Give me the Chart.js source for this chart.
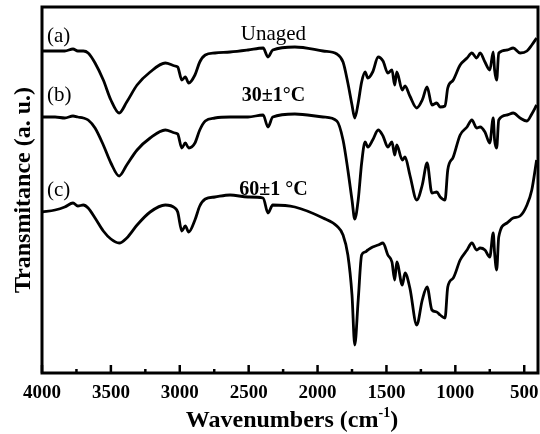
<!DOCTYPE html>
<html>
<head>
<meta charset="utf-8">
<script src="https://cdn.jsdelivr.net/npm/chart.js@4.4.0/dist/chart.umd.min.js"></script>
<style>
  html, body { margin: 0; padding: 0; background: #fff; }
</style>
</head>
<body>
<canvas id="ftir" width="540" height="434"></canvas>
<script>
// FTIR spectra, wavenumber (cm-1) against transmittance (a. u.), offset traces
const wavenumbers = [
  4000, 3905, 3835, 3775, 3740, 3700, 3665, 3615, 3555, 3500,
  3440, 3385, 3310, 3215, 3105, 3035, 3015, 2985, 2960, 2935,
  2890, 2855, 2815, 2745, 2635, 2505, 2395, 2360, 2325, 2165,
  1960, 1860, 1815, 1780, 1750, 1730, 1705, 1680, 1655, 1635,
  1600, 1560, 1525, 1490, 1460, 1440, 1425, 1385, 1365, 1330,
  1280, 1240, 1205, 1170, 1135, 1110, 1075, 1055, 1015, 965,
  915, 880, 845, 820, 785, 750, 725, 715, 700, 685,
  625, 580, 530, 480, 445, 410
];

const unaged = [
  322, 322, 322, 324, 322, 322, 320, 310, 293, 273,
  260, 271, 288, 301, 310, 307, 306, 293, 296, 290,
  298, 311, 318, 320, 321, 323, 325, 316, 323, 326,
  322, 319, 311, 290, 268, 255, 270, 291, 301, 295,
  301, 316, 312, 300, 303, 288, 301, 283, 287, 277,
  265, 273, 286, 268, 270, 266, 267, 285, 293, 308,
  315, 320, 315, 320, 311, 303, 321, 303, 293, 320,
  323, 325, 320, 322, 328, 335
];

const aged30 = [
  256, 256, 255, 257, 256, 255, 253, 245, 228, 210,
  197, 208, 223, 235, 243, 240, 239, 225, 230, 225,
  230, 243, 252, 255, 256, 256, 258, 246, 256, 259,
  256, 252, 233, 203, 173, 154, 173, 210, 231, 226,
  233, 243, 237, 226, 231, 218, 228, 213, 216, 198,
  173, 188, 210, 180, 181, 176, 173, 203, 216, 238,
  246, 253, 245, 246, 241, 230, 255, 233, 225, 253,
  258, 260, 255, 252, 259, 268
];

const aged60 = [
  161, 163, 166, 170, 167, 168, 165, 155, 142, 134,
  130, 135, 148, 161, 168, 165, 161, 142, 147, 141,
  153, 167, 174, 176, 178, 176, 175, 160, 168, 166,
  155, 147, 138, 118, 78, 28, 73, 118, 121, 123,
  126, 128, 130, 118, 111, 93, 111, 88, 100, 85,
  48, 73, 86, 63, 61, 58, 55, 86, 95, 113,
  123, 130, 123, 125, 123, 116, 140, 120, 103, 136,
  150, 155, 157, 168, 183, 213
];

const xTicks = [4000, 3500, 3000, 2500, 2000, 1500, 1000, 500];
const xMinorTicks = [3750, 3250, 2750, 2250, 1750, 1250, 750];
const tags = ['(a)', '(b)', '(c)'];
const conditions = ['Unaged', '30±1°C', '60±1 °C'];

const serif = "'Liberation Serif', 'Times New Roman', serif";

function toPoints(values) {
  return wavenumbers.map((w, i) => ({ x: w, y: values[i] }));
}

function trace(values) {
  return {
    data: toPoints(values),
    borderColor: '#000',
    borderWidth: 2.8,
    borderJoinStyle: 'round',
    pointRadius: 0,
    cubicInterpolationMode: 'monotone',
    fill: false
  };
}

// frame, inward ticks, trace labels and the x title with superscript
const decorations = {
  id: 'decorations',
  afterDraw(chart) {
    const { ctx, chartArea: area, scales: { x, y } } = chart;
    ctx.save();
    ctx.strokeStyle = '#000';
    ctx.lineWidth = 3;
    ctx.strokeRect(area.left, area.top, area.right - area.left, area.bottom - area.top);

    ctx.lineWidth = 2.5;
    xTicks.forEach(v => {
      const px = x.getPixelForValue(v);
      ctx.beginPath();
      ctx.moveTo(px, area.bottom);
      ctx.lineTo(px, area.bottom - 8);
      ctx.stroke();
    });
    xMinorTicks.forEach(v => {
      const px = x.getPixelForValue(v);
      ctx.beginPath();
      ctx.moveTo(px, area.bottom);
      ctx.lineTo(px, area.bottom - 4);
      ctx.stroke();
    });

    ctx.fillStyle = '#000';
    ctx.textBaseline = 'alphabetic';

    // (a) (b) (c) at the left of each trace
    const tagLevels = [331, 272, 177];
    ctx.font = '21px ' + serif;
    ctx.textAlign = 'left';
    tags.forEach((t, i) => {
      ctx.fillText(t, x.getPixelForValue(3964), y.getPixelForValue(tagLevels[i]));
    });

    // ageing condition above each trace
    const condLevels = [333, 272, 178];
    const condFonts = ['21px ', 'bold 20px ', 'bold 20px '];
    ctx.textAlign = 'center';
    conditions.forEach((t, i) => {
      ctx.font = condFonts[i] + serif;
      ctx.fillText(t, x.getPixelForValue(2320), y.getPixelForValue(condLevels[i]));
    });

    // Wavenumbers (cm^-1)
    const main = 'Wavenumbers (cm';
    const sup = '-1';
    const close = ')';
    ctx.font = 'bold 24px ' + serif;
    const wMain = ctx.measureText(main).width;
    const wClose = ctx.measureText(close).width;
    ctx.font = 'bold 14px ' + serif;
    const wSup = ctx.measureText(sup).width;
    const cx = (area.left + area.right) / 2 + 2;
    const base = 427;
    let sx = cx - (wMain + wSup + wClose) / 2;
    ctx.textAlign = 'left';
    ctx.font = 'bold 24px ' + serif;
    ctx.fillText(main, sx, base);
    sx += wMain;
    ctx.font = 'bold 14px ' + serif;
    ctx.fillText(sup, sx, base - 10);
    sx += wSup;
    ctx.font = 'bold 24px ' + serif;
    ctx.fillText(close, sx, base);
    ctx.restore();
  }
};

new Chart(document.getElementById('ftir'), {
  type: 'line',
  data: {
    datasets: [trace(unaged), trace(aged30), trace(aged60)]
  },
  options: {
    responsive: false,
    animation: false,
    devicePixelRatio: 1,
    layout: { padding: { top: 7, right: 2, left: 0, bottom: 0 } },
    plugins: {
      legend: { display: false },
      tooltip: { enabled: false }
    },
    scales: {
      x: {
        type: 'linear',
        reverse: true,
        min: 400,
        max: 4000,
        afterBuildTicks: scale => { scale.ticks = xTicks.map(v => ({ value: v })); },
        afterFit: scale => {
          scale.height = 61;
          scale.paddingLeft = 0;
          scale.paddingRight = 0;
        },
        grid: { display: false, drawTicks: false },
        border: { display: false },
        ticks: {
          color: '#000',
          padding: 9,
          maxRotation: 0,
          autoSkip: false,
          callback: v => String(v),
          font: { family: serif, size: 19, weight: 'bold' }
        }
      },
      y: {
        min: 0,
        max: 366,
        afterFit: scale => { scale.width = 42; },
        grid: { display: false, drawTicks: false },
        border: { display: false },
        ticks: { display: false },
        title: {
          display: true,
          text: 'Transmitance (a. u.)',
          color: '#000',
          padding: { top: 9, bottom: 0 },
          font: { family: serif, size: 24, weight: 'bold' }
        }
      }
    }
  },
  plugins: [decorations]
});
</script>
</body>
</html>
